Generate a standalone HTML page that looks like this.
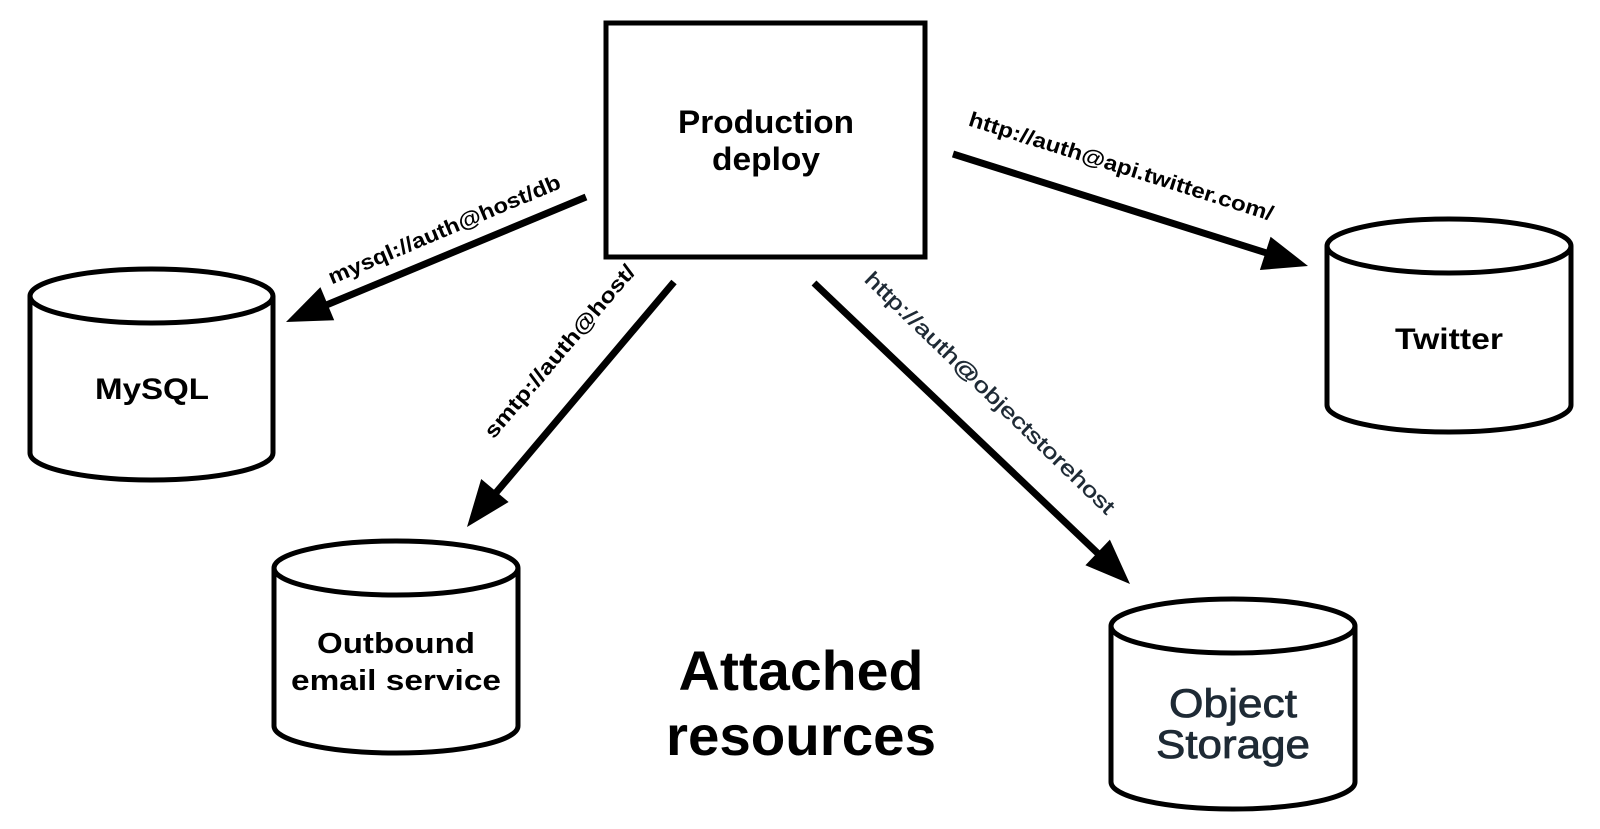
<!DOCTYPE html>
<html><head><meta charset="utf-8"><style>html,body{margin:0;padding:0;background:#fff}svg{display:block}</style></head>
<body>
<svg width="1600" height="829" viewBox="0 0 1600 829" xmlns="http://www.w3.org/2000/svg">
<g fill="none" stroke="#000" stroke-width="5">
<rect x="606" y="23" width="319" height="234"/>
<path d="M30,296 A121.5,27 0 0 1 273,296 A121.5,27 0 0 1 30,296 L30,453 A121.5,27 0 0 0 273,453 L273,296"/>
<path d="M1327,246 A122,27 0 0 1 1571,246 A122,27 0 0 1 1327,246 L1327,405 A122,27 0 0 0 1571,405 L1571,246"/>
<path d="M274,568 A122,27 0 0 1 518,568 A122,27 0 0 1 274,568 L274,726 A122,27 0 0 0 518,726 L518,568"/>
<path d="M1111,626 A122,27 0 0 1 1355,626 A122,27 0 0 1 1111,626 L1111,782 A122,27 0 0 0 1355,782 L1355,626"/>
</g>
<g stroke="#000" stroke-width="7">
<line x1="586" y1="197" x2="318" y2="308.5"/>
<line x1="674" y1="282" x2="489.6" y2="500.3"/>
<line x1="953" y1="154" x2="1274.6" y2="255.5"/>
<line x1="814" y1="283" x2="1104.7" y2="559.9"/>
</g>
<g fill="#000">
<polygon points="286,322 334.2,320.2 320.4,287.1"/>
<polygon points="467,527 508.6,502.0 481.2,479.0"/>
<polygon points="1308,266 1259.9,270.0 1270.6,236.7"/>
<polygon points="1130,584 1085.4,565.3 1109.9,539.6"/>
</g>
<g font-family="Liberation Sans, sans-serif" text-anchor="middle">
<text x="766" y="133" font-size="32" font-weight="bold" textLength="176" lengthAdjust="spacingAndGlyphs">Production</text>
<text x="766" y="170" font-size="32" font-weight="bold" textLength="108" lengthAdjust="spacingAndGlyphs">deploy</text>
<text x="152" y="399" font-size="30" font-weight="bold" textLength="114" lengthAdjust="spacingAndGlyphs">MySQL</text>
<text x="1449" y="349" font-size="30" font-weight="bold" textLength="108" lengthAdjust="spacingAndGlyphs">Twitter</text>
<text x="396" y="653" font-size="29" font-weight="bold" textLength="158" lengthAdjust="spacingAndGlyphs">Outbound</text>
<text x="396" y="690" font-size="29" font-weight="bold" textLength="210" lengthAdjust="spacingAndGlyphs">email service</text>
<text x="1233" y="717" font-size="40" fill="#1e2a35" stroke="#1e2a35" stroke-width="0.8" textLength="128" lengthAdjust="spacingAndGlyphs">Object</text>
<text x="1233" y="758" font-size="40" fill="#1e2a35" stroke="#1e2a35" stroke-width="0.8" textLength="154" lengthAdjust="spacingAndGlyphs">Storage</text>
<text x="801" y="690" font-size="56" font-weight="bold" textLength="245" lengthAdjust="spacingAndGlyphs">Attached</text>
<text x="801" y="755" font-size="56" font-weight="bold" textLength="270" lengthAdjust="spacingAndGlyphs">resources</text>
<text transform="translate(447,236) rotate(-22.8)" font-size="21" font-weight="bold" textLength="250" lengthAdjust="spacingAndGlyphs">mysql://auth@host/db</text>
<text transform="translate(565,356) rotate(-49.5)" font-size="21" font-weight="bold" textLength="220" lengthAdjust="spacingAndGlyphs">smtp://auth@host/</text>
<text transform="translate(1119,173) rotate(17.5)" font-size="21" font-weight="bold" textLength="318" lengthAdjust="spacingAndGlyphs">http://auth@api.twitter.com/</text>
<text transform="translate(985,398) rotate(44)" font-size="21" fill="#1e2a35" stroke="#1e2a35" stroke-width="0.4" textLength="338" lengthAdjust="spacingAndGlyphs">http://auth@objectstorehost</text>
</g>
</svg>
</body></html>
